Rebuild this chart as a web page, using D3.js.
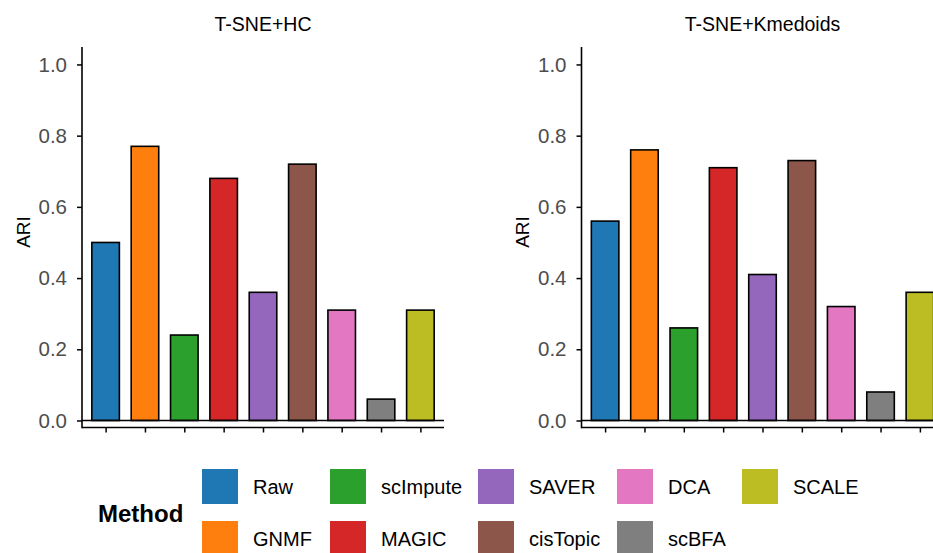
<!DOCTYPE html>
<html>
<head>
<meta charset="utf-8">
<script src="https://cdn.jsdelivr.net/npm/d3@7"></script>
<style>
  html, body { margin: 0; padding: 0; background: #fff; overflow: hidden; }
  svg { display: block; font-family: "Liberation Sans", Arial, sans-serif; }
</style>
</head>
<body>
<svg id="chart" width="933" height="553"></svg>
<script>
// ---- data ----
const methods = ["Raw", "GNMF", "scImpute", "MAGIC", "SAVER", "cisTopic", "DCA", "scBFA", "SCALE"];
const colors  = ["#1f77b4", "#ff7f0e", "#2ca02c", "#d62728", "#9467bd", "#8c564b", "#e377c2", "#7f7f7f", "#bcbd22"];
const panelTitles = ["T-SNE+HC", "T-SNE+Kmedoids"];
const ariHC       = [0.50, 0.77, 0.24, 0.68, 0.36, 0.72, 0.31, 0.06, 0.31];
const ariKmedoids = [0.56, 0.76, 0.26, 0.71, 0.41, 0.73, 0.32, 0.08, 0.36];
const yTicks = [0.0, 0.2, 0.4, 0.6, 0.8, 1.0];
const yLabel = "ARI";
const legendTitle = "Method";

(function () {
const panels = [
  { title: panelTitles[0], values: ariHC },
  { title: panelTitles[1], values: ariKmedoids }
];

const svg = d3.select("#chart");
const color = d3.scaleOrdinal().domain(methods).range(colors);

const panelLeft = [82, 581.5];
const panelW = 362;
const plotTop = 47, plotBottom = 427.5;

const y = d3.scaleLinear().domain([-0.0197, 1.049]).range([plotBottom, plotTop]);

panels.forEach((p, i) => {
  const x0 = panelLeft[i];
  const g = svg.append("g");
  const x = d3.scalePoint().domain(methods).range([x0, x0 + panelW]).padding(0.6);
  const step = x.step();
  const bw = step * 0.7;

  // bars
  g.selectAll("rect.bar")
    .data(methods.map((m, k) => ({ m, v: p.values[k] })))
    .join("rect")
    .attr("class", "bar")
    .attr("x", d => x(d.m) - bw / 2)
    .attr("width", bw)
    .attr("y", d => y(d.v))
    .attr("height", d => y(0) - y(d.v))
    .attr("fill", d => color(d.m))
    .attr("stroke", "#000")
    .attr("stroke-width", 1.6);

  // zero reference line
  g.append("line")
    .attr("x1", x0).attr("x2", x0 + panelW)
    .attr("y1", y(0)).attr("y2", y(0))
    .attr("stroke", "#000").attr("stroke-width", 1.6);

  // y axis
  const ya = g.append("g")
    .attr("transform", `translate(${x0},0)`)
    .call(d3.axisLeft(y).tickValues(yTicks).tickFormat(d3.format(".1f")).tickSizeOuter(0).tickSize(5).tickPadding(10));
  ya.select(".domain").remove();
  ya.selectAll(".tick line").attr("stroke", "#000").attr("stroke-width", 1.5);
  ya.selectAll(".tick text")
    .attr("fill", "#4D4D4D")
    .style("font-size", "20.5px")
    .style("font-family", "'Liberation Sans', Arial, sans-serif");
  g.append("line")
    .attr("x1", x0).attr("x2", x0)
    .attr("y1", plotTop).attr("y2", plotBottom + 0.8)
    .attr("stroke", "#000").attr("stroke-width", 1.6);

  // x axis
  const xa = g.append("g")
    .attr("transform", `translate(0,${plotBottom})`)
    .call(d3.axisBottom(x).tickSize(5).tickSizeOuter(0).tickFormat(""));
  xa.select(".domain").remove();
  xa.selectAll(".tick line").attr("stroke", "#000").attr("stroke-width", 1.5);
  g.append("line")
    .attr("x1", x0).attr("x2", x0 + panelW)
    .attr("y1", plotBottom).attr("y2", plotBottom)
    .attr("stroke", "#000").attr("stroke-width", 1.6);

  // title
  g.append("text")
    .attr("x", x0 + panelW / 2)
    .attr("y", 31)
    .attr("text-anchor", "middle")
    .attr("fill", "#000")
    .style("font-size", "19.5px")
    .text(p.title);

  // y label
  g.append("text")
    .attr("transform", `translate(${x0 - 59},232) rotate(-90)`)
    .attr("text-anchor", "middle")
    .attr("dominant-baseline", "central")
    .attr("fill", "#000")
    .style("font-size", "19px")
    .text(yLabel);
});

// ---- legend ----
const colX = [202, 330, 478, 617, 742];
const rowY = [469, 521];
const keyW = 36, keyH = 35;
const lg = svg.append("g");
lg.append("text")
  .attr("x", 98).attr("y", 513)
  .attr("dominant-baseline", "central")
  .attr("fill", "#000")
  .style("font-size", "24px")
  .style("font-weight", "bold")
  .text(legendTitle);

methods.forEach((m, k) => {
  const c = Math.floor(k / 2), r = k % 2;
  lg.append("rect")
    .attr("x", colX[c]).attr("y", rowY[r])
    .attr("width", keyW).attr("height", keyH)
    .attr("fill", color(m));
  lg.append("text")
    .attr("x", colX[c] + 51)
    .attr("y", rowY[r] + keyH / 2 + 0.5)
    .attr("dominant-baseline", "central")
    .attr("fill", "#000")
    .style("font-size", "20px")
    .text(m);
});
})();
</script>
</body>
</html>
